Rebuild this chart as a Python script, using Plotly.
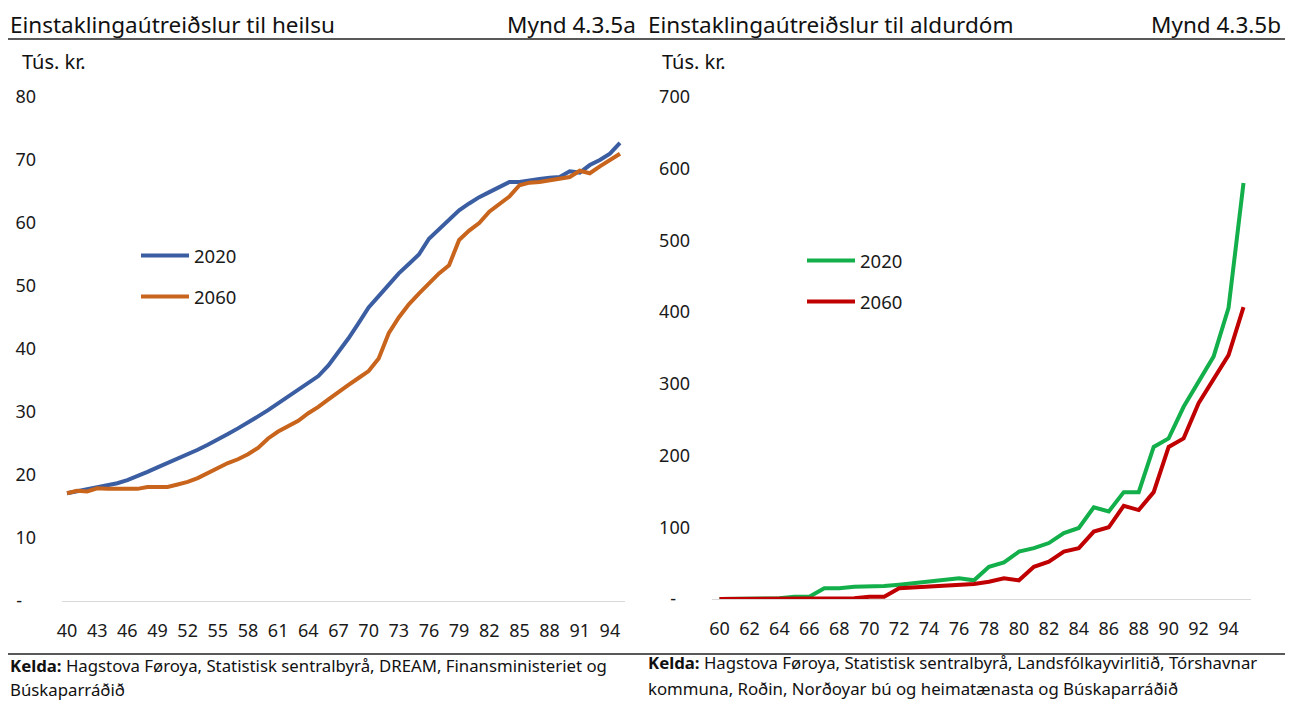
import plotly.graph_objects as go

# --- gögn: vinstra línurit (heilsa), aldur 40-95 ---
aldur_heilsa = list(range(40, 96))
heilsa_2020 = [17.1, 17.4, 17.7, 18.0, 18.3, 18.7, 19.2, 19.8, 20.5, 21.2,
               21.9, 22.5, 23.2, 24.0, 24.8, 25.6, 26.5, 27.4, 28.3, 29.3,
               30.3, 31.4, 32.4, 33.6, 34.6, 35.7, 37.4, 39.5, 41.7, 44.1,
               46.6, 48.4, 50.2, 52.0, 53.5, 55.0, 57.5, 59.0, 60.3, 62.0,
               63.1, 64.1, 64.9, 65.7, 66.5, 66.5, 66.8, 67.0, 67.2, 67.3,
               68.2, 68.0, 69.2, 70.0, 71.0, 72.7]
heilsa_2060 = [17.1, 17.5, 17.4, 17.9, 17.8, 17.8, 17.8, 17.8, 18.1, 18.1,
               18.1, 18.5, 18.9, 19.5, 20.3, 21.1, 21.9, 22.5, 23.3, 24.3,
               25.8, 26.9, 27.7, 28.6, 29.8, 30.8, 32.0, 33.2, 34.3, 35.4,
               36.5, 38.5, 42.5, 45.0, 47.1, 48.8, 50.5, 52.0, 53.3, 57.3,
               58.8, 60.0, 61.8, 63.0, 64.2, 66.0, 66.4, 66.5, 66.8, 67.0,
               67.3, 68.3, 67.9, 69.0, 70.0, 71.0]

# --- gögn: hægra línurit (aldurdómur), aldur 60-95 ---
aldur_aldur = list(range(60, 96))
aldur_2020 = [0, 0, 0, 0, 1, 3, 3, 15, 15, 17,
              17, 18, 20, 22, 24, 27, 29, 26, 45, 51,
              66, 71, 78, 92, 99, 128, 122, 149, 149, 212,
              224, 268, 302, 338, 406, 580]
aldur_2060 = [0, 0, 0, 0, 0, 0, 0, 0, 0, 1,
              3, 3, 15, 16, 17, 18, 19, 21, 24, 29,
              26, 45, 52, 66, 71, 94, 100, 130, 124, 149,
              212, 224, 273, 307, 340, 407]

heilsa_ticks = list(range(40, 95, 3))
aldur_ticks = list(range(60, 95, 2))
heilsa_yticks = [0, 10, 20, 30, 40, 50, 60, 70, 80]
aldur_yticks = [0, 100, 200, 300, 400, 500, 600, 700]

W, H = 1293, 702
FONT = "Noto Sans"
BODY = 8  # page margin around the plot div


def px(x):
    return (x - BODY) / W


def py(y):
    return 1 - (y - BODY) / H


fig = go.Figure()

fig.add_trace(go.Scatter(x=aldur_heilsa, y=heilsa_2020, name="2020", mode="lines",
                         line=dict(color="#3B5EA2", width=4), legend="legend",
                         legendgroup="a", xaxis="x", yaxis="y"))
fig.add_trace(go.Scatter(x=aldur_heilsa, y=heilsa_2060, name="2060", mode="lines",
                         line=dict(color="#C8641C", width=4), legend="legend",
                         legendgroup="b", xaxis="x", yaxis="y"))
fig.add_trace(go.Scatter(x=aldur_aldur, y=aldur_2020, name="2020", mode="lines",
                         line=dict(color="#12AF4B", width=4), legend="legend2",
                         legendgroup="c", xaxis="x2", yaxis="y2"))
fig.add_trace(go.Scatter(x=aldur_aldur, y=aldur_2060, name="2060", mode="lines",
                         line=dict(color="#C00000", width=4), legend="legend2",
                         legendgroup="d", xaxis="x2", yaxis="y2"))

tickfont = dict(family=FONT, size=18, color="#1a1a1a")
dash = "-\u00a0\u00a0\u00a0"

xcommon = dict(showgrid=False, zeroline=False, showline=True, linecolor="#D9D9D9",
               linewidth=1, ticks="", tickfont=tickfont, ticklabelstandoff=13,
               fixedrange=True)
ycommon = dict(showgrid=False, zeroline=False, showline=False, ticks="",
               tickfont=tickfont, fixedrange=True)

legcommon = dict(font=dict(family=FONT, size=18.5, color="#1a1a1a"), bgcolor="rgba(0,0,0,0)",
                 traceorder="grouped", tracegroupgap=14, itemwidth=48,
                 xanchor="left", yanchor="top")

fig.update_layout(
    width=W, height=H,
    margin=dict(l=0, r=0, t=0, b=0, autoexpand=False),
    paper_bgcolor="white", plot_bgcolor="white",
    font=dict(family=FONT, size=16, color="#1a1a1a"),
    xaxis=dict(domain=[px(62), px(625)], range=[39.5, 95.5], tickvals=heilsa_ticks,
               anchor="y", **xcommon),
    yaxis=dict(domain=[py(601), py(97)], range=[0, 80], tickvals=heilsa_yticks,
               ticktext=[dash] + [str(v) for v in heilsa_yticks[1:]], anchor="x",
               ticklabelstandoff=25, **ycommon),
    xaxis2=dict(domain=[px(712), px(1251)], range=[59.5, 95.5], tickvals=aldur_ticks,
                anchor="y2", **xcommon),
    yaxis2=dict(domain=[py(599), py(97)], range=[0, 700], tickvals=aldur_yticks,
                ticktext=[dash] + [str(v) for v in aldur_yticks[1:]], anchor="x2",
                ticklabelstandoff=21, **ycommon),
    legend=dict(x=px(136), y=py(237), **legcommon),
    legend2=dict(x=px(802), y=py(242), **legcommon),
    showlegend=True,
)

# fyrirsagnir og heimildir
texts = [
    (8, 24.5, "Einstaklingaútreiðslur til heilsu", "left", 22.5),
    (638, 24.5, "Mynd 4.3.5a", "right", 22.5),
    (646, 24.5, "Einstaklingaútreiðslur til aldurdóm", "left", 22.5),
    (1283, 24.5, "Mynd 4.3.5b", "right", 22.5),
    (20, 62, "Tús. kr.", "left", 20),
    (660, 62, "Tús. kr.", "left", 20),
    (8, 665, "<b>Kelda:</b> Hagstova Føroya, Statistisk sentralbyrå, DREAM, Finansministeriet og", "left", 16.8),
    (8, 689, "Búskaparráðið", "left", 16.8),
    (646, 662, "<b>Kelda:</b> Hagstova Føroya, Statistisk sentralbyrå, Landsfólkayvirlitið, Tórshavnar", "left", 16.8),
    (646, 688, "kommuna, Roðin, Norðoyar bú og heimatænasta og Búskaparráðið", "left", 16.8),
]
for x, y, t, anchor, size in texts:
    fig.add_annotation(x=px(x), y=py(y), xref="paper", yref="paper", text=t,
                       showarrow=False, xanchor=anchor, yanchor="middle",
                       font=dict(family=FONT, size=size, color="#111111"))

# strikur undir fyrirsögnum og yfir heimildum
fig.add_shape(type="line", xref="paper", yref="paper", x0=px(8), x1=px(1285),
              y0=py(39), y1=py(39), line=dict(color="#222222", width=1.5))
fig.add_shape(type="line", xref="paper", yref="paper", x0=px(8), x1=px(1285),
              y0=py(654), y1=py(654), line=dict(color="#222222", width=1.5))

fig.write_html("out.html")
